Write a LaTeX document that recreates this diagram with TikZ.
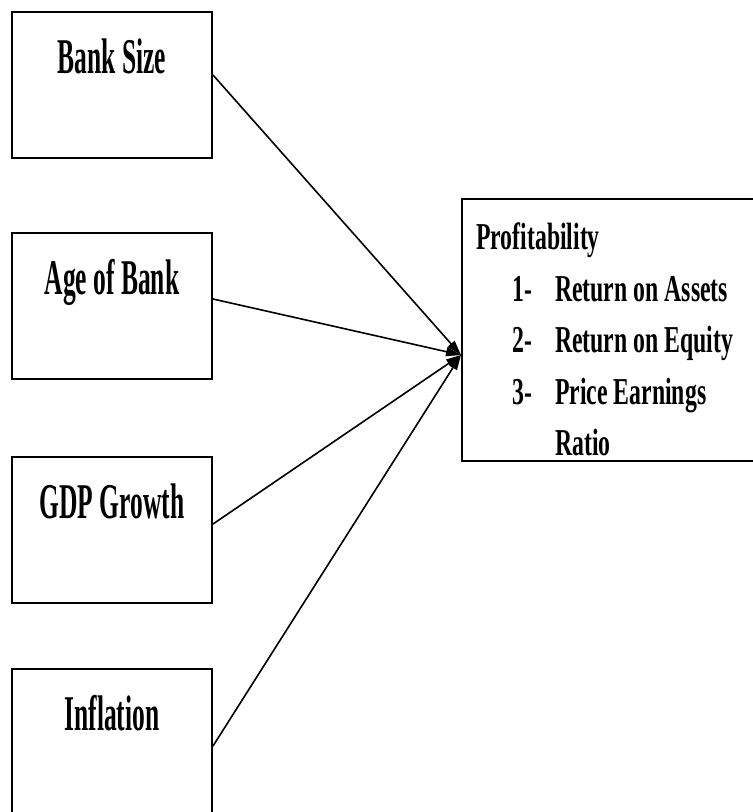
\documentclass[tikz,border=0pt]{standalone}
\usepackage{fontspec}
\setmainfont{Liberation Serif}
\newfontfamily\boxfont[FakeStretch=0.51]{Liberation Serif}
\newfontfamily\listfont[FakeStretch=0.625]{Liberation Serif}
\usetikzlibrary{arrows.meta, positioning}

\begin{document}
\begin{tikzpicture}[x=1pt, y=-1pt,
		factor/.style={draw, line width=2pt, minimum width=200pt, inner ysep=0pt,
			text height=61pt, text depth=85pt, anchor=north west,
			font=\boxfont\bfseries\fontsize{50}{54}\selectfont},
		link/.style={line width=1.6pt, -{Triangle[length=15pt, width=9pt]}}]
				\useasboundingbox (0,0) rectangle (753,812);
				\clip (0,0) rectangle (753,812);
				\node[factor] (size) at (11,11) {Bank Size};
				\node[factor] (age) at (11,232) {Age of Bank};
				\node[factor] (gdp) at (11,456) {GDP Growth};
				\node[factor] (infl) at (11,668) {Inflation};
				\node[draw, line width=2pt, minimum width=320pt, minimum height=262pt,
					anchor=north west, inner sep=0pt] (prof) at (461,198) {};
				\node[anchor=north west, align=left, inner sep=0pt,
					font=\listfont\bfseries\fontsize{38}{51.5}\selectfont] (measures)
					at ([xshift=15pt, yshift=-25pt]prof.north west)
					{Profitability\\
					\hspace*{36pt}\makebox[43pt][l]{1-}Return on Assets\\
					\hspace*{36pt}\makebox[43pt][l]{2-}Return on Equity\\
					\hspace*{36pt}\makebox[43pt][l]{3-}Price Earnings\\
					\hspace*{79pt}Ratio};
				\coordinate (hub) at ([yshift=-157pt]prof.north west);
				\draw[link] ([yshift=-64pt]size.north east) -- (hub);
				\draw[link] ([yshift=-67pt]age.north east) -- (hub);
				\draw[link] ([yshift=-68pt]gdp.north east) -- (hub);
				\draw[link] ([yshift=-78pt]infl.north east) -- (hub);
			\end{tikzpicture}
\end{document}
